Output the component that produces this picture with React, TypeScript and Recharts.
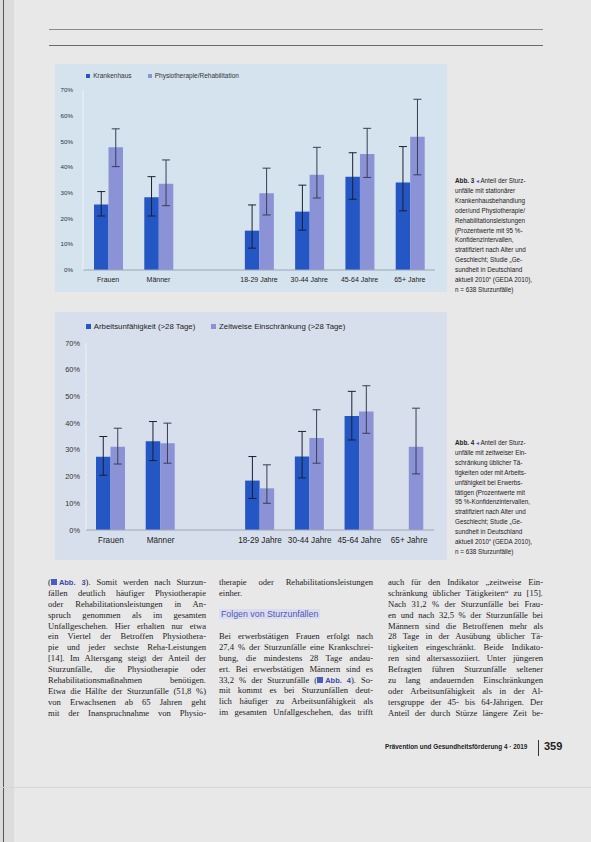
import React from "react";
import { BarChart, Bar, XAxis, YAxis, ErrorBar } from "recharts";

// shared axis data
const categories = ["Frauen", "Männer", "", "18-29 Jahre", "30-44 Jahre", "45-64 Jahre", "65+ Jahre"];
const percentTicks = [0, 10, 20, 30, 40, 50, 60, 70];

// Abb. 3: Krankenhaus vs. Physiotherapie/Rehabilitation (value, 95%-CI)
const krankenhaus = [25.5, 28.3, null, 15.3, 22.7, 36.3, 34.0];
const krankenhausLow = [21.0, 21.0, null, 8.5, 15.5, 27.5, 23.0];
const krankenhausHigh = [30.5, 36.3, null, 25.3, 33.0, 45.6, 48.0];
const physio = [47.7, 33.5, null, 29.8, 37.0, 45.1, 51.8];
const physioLow = [40.2, 25.0, null, 21.4, 28.0, 36.0, 37.0];
const physioHigh = [54.9, 42.8, null, 39.6, 47.7, 55.1, 66.4];

// Abb. 4: Arbeitsunfähigkeit vs. zeitweise Einschränkung (value, 95%-CI)
const arbeitsunfaehig = [27.4, 33.2, null, 18.5, 27.5, 42.7, null];
const arbeitsunfaehigLow = [20.5, 26.0, null, 11.8, 19.5, 33.7, null];
const arbeitsunfaehigHigh = [35.0, 40.6, null, 27.5, 36.9, 51.9, null];
const einschraenkung = [31.2, 32.5, null, 15.6, 34.4, 44.4, 31.2];
const einschraenkungLow = [24.7, 25.0, null, 10.0, 25.0, 36.2, 21.0];
const einschraenkungHigh = [38.1, 40.0, null, 24.4, 45.0, 54.0, 45.6];

const DARK = "#2456c4";
const LIGHT = "#8b93d6";

const err = (v, lo, hi) => (v == null ? null : [v - lo, hi - v]);

const toRows = (a, aLo, aHi, b, bLo, bHi) =>
  categories.map((name, i) => ({
    name,
    a: a[i],
    aErr: err(a[i], aLo[i], aHi[i]),
    b: b[i],
    bErr: err(b[i], bLo[i], bHi[i]),
  }));

const rows3 = toRows(krankenhaus, krankenhausLow, krankenhausHigh, physio, physioLow, physioHigh);
const rows4 = toRows(
  arbeitsunfaehig, arbeitsunfaehigLow, arbeitsunfaehigHigh,
  einschraenkung, einschraenkungLow, einschraenkungHigh
);

const SANS = "'Liberation Sans', Arial, sans-serif";
const SERIF = "'Liberation Serif', 'Times New Roman', serif";

const LegendItem = ({ color, label, size }) => (
  <span style={{ display: "inline-flex", alignItems: "center", gap: 3, marginRight: 16 }}>
    <span style={{ width: size * 0.6, height: size * 0.6, background: color, display: "inline-block" }} />
    <span>{label}</span>
  </span>
);

const StudyChart = ({ rows, w, h, m, yAxisW, xAxisH, tickFont, yTickMargin, xTickMargin, barSize }) => (
  <BarChart width={w} height={h} data={rows} margin={m} barGap={0} barSize={barSize}>
    <XAxis
      dataKey="name"
      interval={0}
      height={xAxisH}
      tickLine={false}
      tickSize={0}
      tickMargin={xTickMargin}
      axisLine={{ stroke: "#9ea6b8" }}
      tick={{ fontSize: tickFont, fill: "#222", fontFamily: SANS }}
    />
    <YAxis
      width={yAxisW}
      domain={[0, 70]}
      ticks={percentTicks}
      tickFormatter={(v) => `${v}%`}
      tickLine={false}
      tickSize={0}
      tickMargin={yTickMargin}
      axisLine={{ stroke: "#eef2f7" }}
      tick={{ fontSize: tickFont - 0.8, fill: "#333", fontFamily: SANS }}
    />
    <Bar dataKey="a" fill={DARK} isAnimationActive={false}>
      <ErrorBar dataKey="aErr" width={4} stroke="#1b1f33" strokeWidth={1} isAnimationActive={false} />
    </Bar>
    <Bar dataKey="b" fill={LIGHT} isAnimationActive={false}>
      <ErrorBar dataKey="bErr" width={4} stroke="#3a3d52" strokeWidth={1} isAnimationActive={false} />
    </Bar>
  </BarChart>
);

const Lines = ({ lines, x, y, w, lh, size, lastIdx = [] }) => (
  <div style={{ position: "absolute", left: x, top: y, width: w, fontFamily: SERIF, fontSize: size, color: "#1c1c1c" }}>
    {lines.map((t, i) => (
      <div
        key={i}
        style={{
          height: lh,
          lineHeight: `${lh}px`,
          whiteSpace: "nowrap",
          textAlign: lastIdx.includes(i) ? "left" : "justify",
          textAlignLast: lastIdx.includes(i) ? "left" : "justify",
        }}
      >
        {t}
      </div>
    ))}
  </div>
);

const Ref = ({ n }) => (
  <span style={{ color: "#3b4aa8", fontFamily: SANS, fontWeight: 700, fontSize: 7.5 }}>
    <span style={{ display: "inline-block", width: 6, height: 6, background: "#4a5cc0", marginRight: 2 }} />
    Abb. {n}
  </span>
);

const caption3 = [
  "unfälle mit stationärer",
  "Krankenhausbehandlung",
  "oder/und Physiotherapie/",
  "Rehabilitationsleistungen",
  "(Prozentwerte mit 95 %-",
  "Konfidenzintervallen,",
  "stratifiziert nach Alter und",
  "Geschlecht; Studie „Ge-",
  "sundheit in Deutschland",
  "aktuell 2010“ (GEDA 2010),",
  "n = 638 Sturzunfälle)",
];
const caption4 = [
  "unfälle mit zeitweiser Ein-",
  "schränkung üblicher Tä-",
  "tigkeiten oder mit Arbeits-",
  "unfähigkeit bei Erwerbs-",
  "tätigen (Prozentwerte mit",
  "95 %-Konfidenzintervallen,",
  "stratifiziert nach Alter und",
  "Geschlecht; Studie „Ge-",
  "sundheit in Deutschland",
  "aktuell 2010“ (GEDA 2010),",
  "n = 638 Sturzunfälle)",
];

const Caption = ({ n, lines, top }) => (
  <div style={{ position: "absolute", left: 455, top, width: 90, fontFamily: SANS, fontSize: 6.3, lineHeight: "9.9px", color: "#222" }}>
    <div style={{ whiteSpace: "nowrap" }}>
      <b>Abb. {n}</b> <span style={{ color: "#4a5cc0" }}>◂</span> Anteil der Sturz-
    </div>
    {lines.map((l, i) => (
      <div key={i} style={{ whiteSpace: "nowrap" }}>{l}</div>
    ))}
  </div>
);

const col1 = [
  <span>(<Ref n={3} />). Somit werden nach Sturzun-</span>,
  "fällen deutlich häufiger Physiotherapie",
  "oder Rehabilitationsleistungen in An-",
  "spruch genommen als im gesamten",
  "Unfallgeschehen. Hier erhalten nur etwa",
  "ein Viertel der Betroffen Physiothera-",
  "pie und jeder sechste Reha-Leistungen",
  "[14]. Im Altersgang steigt der Anteil der",
  "Sturzunfälle, die Physiotherapie oder",
  "Rehabilitationsmaßnahmen benötigen.",
  "Etwa die Hälfte der Sturzunfälle (51,8 %)",
  "von Erwachsenen ab 65 Jahren geht",
  "mit der Inanspruchnahme von Physio-",
];
const col2a = ["therapie oder Rehabilitationsleistungen", "einher."];
const col2b = [
  "Bei erwerbstätigen Frauen erfolgt nach",
  "27,4 % der Sturzunfälle eine Krankschrei-",
  "bung, die mindestens 28 Tage andau-",
  "ert. Bei erwerbstätigen Männern sind es",
  <span>33,2 % der Sturzunfälle (<Ref n={4} />). So-</span>,
  "mit kommt es bei Sturzunfällen deut-",
  "lich häufiger zu Arbeitsunfähigkeit als",
  "im gesamten Unfallgeschehen, das trifft",
];
const col3 = [
  "auch für den Indikator „zeitweise Ein-",
  "schränkung üblicher Tätigkeiten“ zu [15].",
  "Nach 31,2 % der Sturzunfälle bei Frau-",
  "en und nach 32,5 % der Sturzunfälle bei",
  "Männern sind die Betroffenen mehr als",
  "28 Tage in der Ausübung üblicher Tä-",
  "tigkeiten eingeschränkt. Beide Indikato-",
  "ren sind altersassoziiert. Unter jüngeren",
  "Befragten führen Sturzunfälle seltener",
  "zu lang andauernden Einschränkungen",
  "oder Arbeitsunfähigkeit als in der Al-",
  "tersgruppe der 45- bis 64-Jährigen. Der",
  "Anteil der durch Stürze längere Zeit be-",
];

export default function App() {
  return (
    <div style={{ position: "absolute", left: 0, top: 0, width: 591, height: 842, background: "#e8e8e8", overflow: "hidden" }}>
      {/* scan edge */}
      <div style={{ position: "absolute", left: 0, top: 0, width: 14, height: 842, background: "#dcdcdc" }} />
      <div style={{ position: "absolute", left: 3, top: 0, width: 1, height: 842, background: "#555" }} />
      <div style={{ position: "absolute", left: 49, top: 29, width: 494, height: 1, background: "#8a8a8a" }} />
      <div style={{ position: "absolute", left: 49, top: 45, width: 494, height: 1, background: "#6a6a6a" }} />

      {/* Abb. 3 */}
      <div style={{ position: "absolute", left: 55, top: 64, width: 392, height: 228, background: "#d5e3ef" }}>
        <div style={{ position: "absolute", left: 31, top: 8, fontFamily: SANS, fontSize: 6.5, color: "#333", whiteSpace: "nowrap" }}>
          <LegendItem color={DARK} label="Krankenhaus" size={7} />
          <LegendItem color={LIGHT} label="Physiotherapie/Rehabilitation" size={7} />
        </div>
        <div style={{ position: "absolute", left: 0, top: 0 }}>
          <StudyChart
            rows={rows3}
            w={392}
            h={228}
            m={{ top: 26, right: 12, bottom: 0, left: 0 }}
            yAxisW={28}
            xAxisH={22}
            tickFont={7}
            yTickMargin={10}
            xTickMargin={7.5}
            barSize={14.5}
          />
        </div>
      </div>
      <Caption n={3} lines={caption3} top={176} />

      {/* Abb. 4 */}
      <div style={{ position: "absolute", left: 55, top: 312, width: 392, height: 248, background: "#d7dfed" }}>
        <div style={{ position: "absolute", left: 31, top: 10, fontFamily: SANS, fontSize: 7.8, color: "#222", whiteSpace: "nowrap" }}>
          <LegendItem color={DARK} label="Arbeitsunfähigkeit (>28 Tage)" size={8} />
          <LegendItem color={LIGHT} label="Zeitweise Einschränkung (>28 Tage)" size={8} />
        </div>
        <div style={{ position: "absolute", left: 0, top: 0 }}>
          <StudyChart
            rows={rows4}
            w={392}
            h={248}
            m={{ top: 31, right: 13, bottom: 0, left: 0 }}
            yAxisW={31}
            xAxisH={30}
            tickFont={8.2}
            yTickMargin={6}
            xTickMargin={7}
            barSize={14.5}
          />
        </div>
      </div>
      <Caption n={4} lines={caption4} top={438} />

      {/* body text */}
      <Lines lines={col1} x={48} y={577} w={158} lh={10.9} size={8.6} />
      <Lines lines={col2a} x={219} y={577} w={154} lh={10.9} size={8.6} lastIdx={[1]} />
      <div style={{ position: "absolute", left: 219, top: 609, fontFamily: SANS, fontSize: 8.8, color: "#4c5ab4", background: "#dcdcf0", padding: "0 2px" }}>
        Folgen von Sturzunfällen
      </div>
      <Lines lines={col2b} x={219} y={631} w={154} lh={10.9} size={8.6} />
      <Lines lines={col3} x={388} y={577} w={155} lh={10.9} size={8.6} />

      {/* footer */}
      <div style={{ position: "absolute", left: 385, top: 743, fontFamily: SANS, fontSize: 6.4, fontWeight: 700, color: "#222", whiteSpace: "nowrap" }}>
        Prävention und Gesundheitsförderung 4 · 2019
      </div>
      <div style={{ position: "absolute", left: 538, top: 740, width: 1, height: 16, background: "#333" }} />
      <div style={{ position: "absolute", left: 544, top: 740, fontFamily: SANS, fontSize: 11, fontWeight: 700, color: "#222" }}>
        359
      </div>
      <div style={{ position: "absolute", left: 0, top: 787, width: 591, height: 1, background: "#d6d6d6" }} />
    </div>
  );
}
